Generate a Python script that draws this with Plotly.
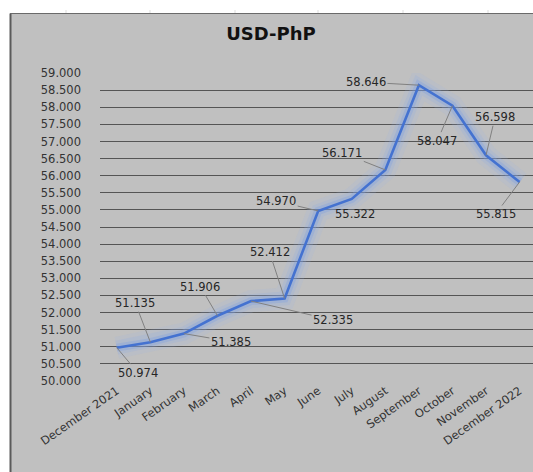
import plotly.graph_objects as go

# ---- data ----
months = ["December 2021", "January", "February", "March", "April", "May", "June",
          "July", "August", "September", "October", "November", "December 2022"]
rates = [50.974, 51.135, 51.385, 51.906, 52.335, 52.412, 54.970,
         55.322, 56.171, 58.646, 58.047, 56.598, 55.815]
y_ticks = [50 + 0.5 * i for i in range(19)]
y_tick_text = [f"{v:.3f}" for v in y_ticks]

# label offsets (pixels, relative to the point)
label_dx = [21, -15, 47, -17, 82, -15, -42, 3, -43, -53, -15, 9, -24]
label_dy = [25, -39, 8, -29, 19, -46, -10, 15, -17, -3, 35, -38, 32]
show_leader = [True, True, True, True, True, True, True, False, True, True, True, True, True]

W, H = 533, 472
BG = "#c0c0c0"
FONT = "DejaVu Sans"

fig = go.Figure()
xs = list(range(len(months)))

# glow layers
for w, c in [(22, "rgba(150,175,235,0.14)"), (14, "rgba(140,170,232,0.20)"),
             (8, "rgba(120,155,228,0.30)")]:
    fig.add_trace(go.Scatter(x=xs, y=rates, mode="lines", hoverinfo="skip",
                             line=dict(color=c, width=w), showlegend=False))
fig.add_trace(go.Scatter(x=xs, y=rates, mode="lines",
                         line=dict(color="#4472d0", width=2.6), showlegend=False))

for i, v in enumerate(rates):
    fig.add_annotation(x=i, y=v, text=f"{v:.3f}", showarrow=True, arrowhead=0,
                       arrowwidth=1,
                       arrowcolor="#808080" if show_leader[i] else "rgba(0,0,0,0)",
                       ax=label_dx[i], ay=label_dy[i], standoff=0,
                       font=dict(family=FONT, size=11.5, color="#262626"))

# white top strip + left strip, border lines, column marks
shapes = [
    dict(type="rect", xref="paper", yref="paper", x0=-1, x1=2, y0=1 + (73 - 13) / 308, y1=2,
         fillcolor="white", line=dict(width=0), layer="above"),
    dict(type="rect", xref="paper", yref="paper", x0=-1, x1=(10 - 100) / 433, y0=-1, y1=2,
         fillcolor="white", line=dict(width=0), layer="above"),
    dict(type="line", xref="paper", yref="paper", x0=(10.5 - 100) / 433, x1=(10.5 - 100) / 433,
         y0=-1, y1=1 + (73 - 13.5) / 308, line=dict(color="#5a5a5a", width=2), layer="above"),
    dict(type="line", xref="paper", yref="paper", x0=(10 - 100) / 433, x1=2,
         y0=1 + (73 - 13.5) / 308, y1=1 + (73 - 13.5) / 308,
         line=dict(color="#6a6a6a", width=1.2), layer="above"),
]
for px in [66, 150, 235, 318, 403, 488]:
    shapes.append(dict(type="line", xref="paper", yref="paper",
                       x0=(px - 100) / 433, x1=(px - 100) / 433,
                       y0=1 + (73 - 10) / 308, y1=1 + (73 - 13) / 308,
                       line=dict(color="#dddddd", width=1), layer="above"))

fig.update_layout(
    width=W, height=H,
    margin=dict(l=100, r=0, t=73, b=91),
    paper_bgcolor=BG, plot_bgcolor=BG,
    shapes=shapes,
    title=dict(text="<b>USD-PhP</b>", x=(271) / W, xanchor="center",
               y=1 - 34 / H, yanchor="middle",
               font=dict(family=FONT, size=18, color="#111111")),
    xaxis=dict(type="linear", range=[-0.5, 12.4], tickmode="array", tickvals=xs,
               ticktext=months, tickangle=-35, showgrid=False, zeroline=False,
               showline=False, ticks="", tickfont=dict(family=FONT, size=11.5, color="#333333")),
    yaxis=dict(range=[50, 59.002], tickmode="array", tickvals=y_ticks, ticktext=y_tick_text,
               showgrid=True, gridcolor="#555555", gridwidth=1, zeroline=False,
               showline=False, ticks="", ticklabelstandoff=18,
               tickfont=dict(family=FONT, size=11.5, color="#333333")),
)

fig.write_html("out.html", config={"displayModeBar": False},
               post_script="document.body.style.margin='0';document.body.style.overflow='hidden';")
